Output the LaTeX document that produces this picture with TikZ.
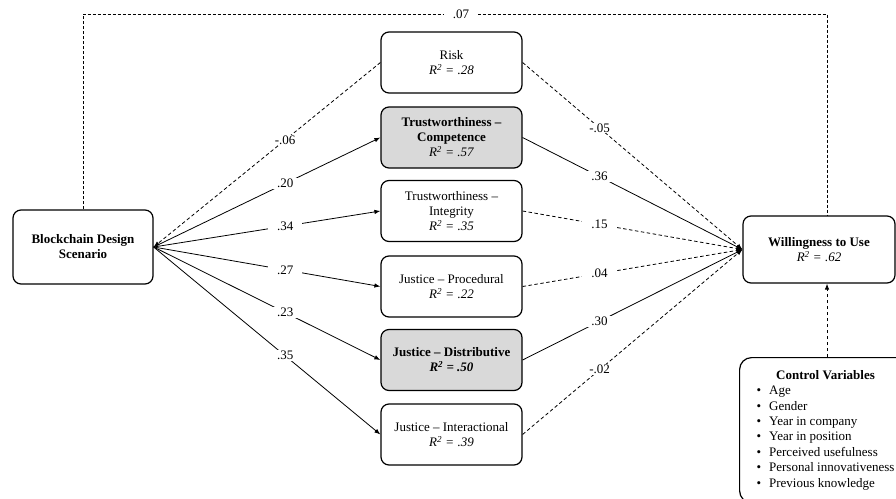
\documentclass[tikz,border=0pt]{standalone}
\usepackage{fontspec}
\setmainfont{Liberation Serif}
\usetikzlibrary{positioning,arrows.meta}

\begin{document}
\begin{tikzpicture}[x=1pt, y=-1pt]

% Define styles
\tikzstyle{varbox} = [rectangle, rounded corners=8pt, draw=black, line width=1.2pt, align=center, minimum width=141pt, minimum height=61pt, font=\fontsize{13}{15}\selectfont]
\tikzstyle{keybox} = [varbox, fill=gray!30]
\tikzstyle{ctrlbox} = [rectangle, rounded corners=12pt, draw=black, line width=1.2pt, inner xsep=17pt, inner ysep=11pt, font=\fontsize{13}{15.4}\selectfont]
\tikzstyle{coef} = [fill=white, inner xsep=9pt, inner ysep=1pt, font=\fontsize{13}{15}\selectfont]
\tikzstyle{path} = [line width=0.8pt, -{Latex[length=6pt,width=4.5pt]}]
\tikzstyle{nspath} = [path, dash pattern=on 3.5pt off 2.5pt]

\useasboundingbox (0,0) rectangle (896,498);

% Main variables
\node [varbox, minimum width=140pt, minimum height=74pt] (design) at (83,247) {\textbf{Blockchain Design}\\\textbf{Scenario}};
\node [varbox, minimum width=152pt, minimum height=67pt] (use) at (819,249.5) {\textbf{Willingness to Use}\\\textit{R\textsuperscript{2} = .62}};

% Mediators
\node [varbox] (risk) at (451.5,62.5) {Risk\\\textit{R\textsuperscript{2} = .28}};
\node [keybox] (competence) at (451.5,137.5) {\textbf{Trustworthiness --}\\\textbf{Competence}\\\textit{R\textsuperscript{2} = .57}};
\node [varbox] (integrity) at (451.5,211) {Trustworthiness --\\Integrity\\\textit{R\textsuperscript{2} = .35}};
\node [varbox] (procedural) at (451.5,286.5) {Justice -- Procedural\\\textit{R\textsuperscript{2} = .22}};
\node [keybox] (distributive) at (451.5,360) {\textbf{Justice -- Distributive}\\\textbf{\textit{R\textsuperscript{2} = .50}}};
\node [varbox] (interactional) at (451.5,434.5) {Justice -- Interactional\\\textit{R\textsuperscript{2} = .39}};

% Control variables
\node [ctrlbox, anchor=north west] (control) at (739,357) {\begin{tabular}{@{}l@{\hspace{8pt}}l@{}}
\multicolumn{2}{c}{\textbf{Control Variables}}\\
\textbullet & Age\\
\textbullet & Gender\\
\textbullet & Year in company\\
\textbullet & Year in position\\
\textbullet & Perceived usefulness\\
\textbullet & Personal innovativeness\\
\textbullet & Previous knowledge
\end{tabular}};

% Paths from design scenario
\draw [nspath] (risk.west) -- (design.east) node [coef, pos=0.42] {-.06};
\draw [path] (design.east) -- (competence.west) node [coef, pos=0.58] {.20};
\draw [path] (design.east) -- (integrity.west) node [coef, pos=0.58] {.34};
\draw [path] (design.east) -- (procedural.west) node [coef, pos=0.58] {.27};
\draw [path] (design.east) -- (distributive.west) node [coef, pos=0.58] {.23};
\draw [path] (design.east) -- (interactional.west) node [coef, pos=0.58] {.35};

% Paths to willingness
\draw [nspath] (risk.east) -- (use.west) node [coef, pos=0.35] {-.05};
\draw [path] (competence.east) -- (use.west) node [coef, pos=0.35] {.36};
\draw [nspath] (integrity.east) -- (use.west) node [coef, pos=0.35] {.15};
\draw [nspath] (procedural.east) -- (use.west) node [coef, pos=0.35] {.04};
\draw [path] (distributive.east) -- (use.west) node [coef, pos=0.35] {.30};
\draw [nspath] (interactional.east) -- (use.west) node [coef, pos=0.35] {-.02};

% Direct effect and controls
\coordinate (topleft) at (83,14);
\coordinate (topright) at (827,14);
\draw [line width=0.8pt, dash pattern=on 3pt off 2pt] (design.north) -- (topleft) -- (topright) node [coef, pos=0.508] {.07} -- (topright |- use.north);
\draw [nspath] (topright |- control.north) -- (topright |- use.south);

\end{tikzpicture}
\end{document}
